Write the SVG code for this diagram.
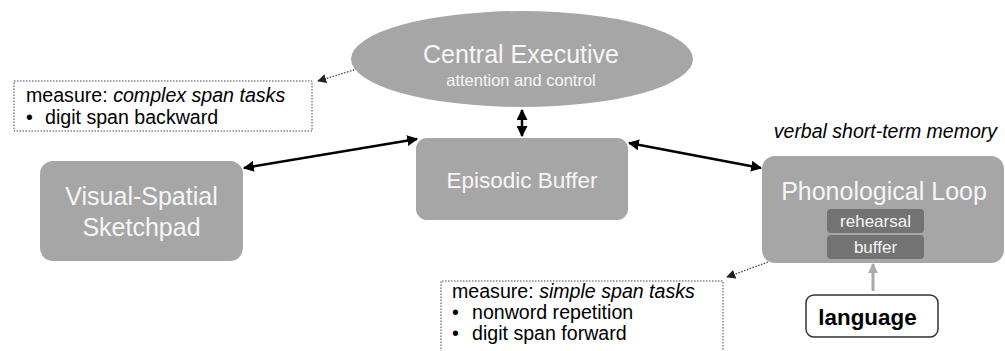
<svg xmlns="http://www.w3.org/2000/svg" width="1005" height="351" viewBox="0 0 1005 351">
<style>
.node{fill:#a6a6a6}
.lt{font-family:"Liberation Sans",Arial,sans-serif;fill:#f6f6f6;text-anchor:middle}
.bt{font-family:"Liberation Sans",Arial,sans-serif;fill:#000}
.inner{fill:#737373}
.mbox{fill:#fff;stroke:#444;stroke-width:1;stroke-dasharray:1.5 1.5}
.dbl{stroke:#000;stroke-width:2.5;fill:none}
.dot{stroke:#444;stroke-width:1.3;stroke-dasharray:1.5 1.5;fill:none}
</style>
<defs>
<marker id="ah" viewBox="0 0 10 10" refX="9" refY="5" markerWidth="4.4" markerHeight="4.4" orient="auto-start-reverse" markerUnits="strokeWidth">
<path d="M0,0 L10,5 L0,10 z" fill="#000"/>
</marker>
<marker id="ahd" viewBox="0 0 10 10" refX="9" refY="5" markerWidth="7" markerHeight="7" orient="auto" markerUnits="strokeWidth">
<path d="M0,0 L10,5 L0,10 z" fill="#222"/>
</marker>
<marker id="ahg" viewBox="0 0 10 10" refX="9" refY="5" markerWidth="3.5" markerHeight="3.5" orient="auto" markerUnits="strokeWidth">
<path d="M0,0 L10,5 L0,10 z" fill="#aaa"/>
</marker>
</defs>

<g id="connectors">
<line class="dbl" x1="522" y1="110" x2="522" y2="136" marker-start="url(#ah)" marker-end="url(#ah)"/>
<line class="dbl" x1="417" y1="139" x2="244" y2="168" marker-start="url(#ah)" marker-end="url(#ah)"/>
<line class="dbl" x1="629" y1="143" x2="761" y2="168" marker-start="url(#ah)" marker-end="url(#ah)"/>
<line class="dot" x1="357" y1="69" x2="318" y2="81" marker-end="url(#ahd)"/>
<line class="dot" x1="768" y1="262" x2="727" y2="277" marker-end="url(#ahd)"/>
<line x1="873" y1="291" x2="873" y2="264" stroke="#aaa" stroke-width="3" marker-end="url(#ahg)"/>
</g>

<g id="central-executive">
<ellipse class="node" cx="522" cy="59" rx="171" ry="48"/>
<text class="lt" x="521" y="63" font-size="25">Central Executive</text>
<text class="lt" x="521" y="86" font-size="16.5">attention and control</text>
</g>

<g id="complex-span">
<rect class="mbox" x="14" y="81" width="298" height="50"/>
<text class="bt" x="26" y="102" font-size="19.6">measure: <tspan font-style="italic">complex span tasks</tspan></text>
<text class="bt" x="26" y="124" font-size="19.6">•</text>
<text class="bt" x="45" y="124" font-size="19.6">digit span backward</text>
</g>

<g id="visual-spatial">
<rect class="node" x="40" y="161" width="203" height="100" rx="13"/>
<text class="lt" x="141.5" y="205" font-size="25">Visual-Spatial</text>
<text class="lt" x="141.5" y="236" font-size="25">Sketchpad</text>
</g>

<g id="episodic-buffer">
<rect class="node" x="416" y="138" width="212" height="82" rx="11"/>
<text class="lt" x="522" y="188" font-size="22.5">Episodic Buffer</text>
</g>

<g id="verbal-label">
<text class="bt" x="997" y="138" font-size="19.5" font-style="italic" text-anchor="end">verbal short-term memory</text>
</g>

<g id="phonological-loop">
<rect class="node" x="762" y="156" width="242" height="107" rx="13"/>
<text class="lt" x="884" y="200" font-size="25">Phonological Loop</text>
<rect class="inner" x="827" y="209" width="97" height="24" rx="4"/>
<text class="lt" x="875.5" y="227" font-size="17">rehearsal</text>
<rect class="inner" x="827" y="235" width="97" height="24" rx="4"/>
<text class="lt" x="875.5" y="253" font-size="17">buffer</text>
</g>

<g id="language">
<rect x="806" y="295" width="132" height="42" rx="8" fill="#fff" stroke="#333" stroke-width="1.5"/>
<text class="bt" x="867.5" y="325" font-size="22.4" font-weight="bold" text-anchor="middle">language</text>
</g>

<g id="simple-span">
<path class="mbox" d="M441,355 L441,281 L723,281 L723,355"/>
<text class="bt" x="452" y="298" font-size="19.6">measure: <tspan font-style="italic">simple span tasks</tspan></text>
<text class="bt" x="452" y="319" font-size="19.6">•</text>
<text class="bt" x="472" y="319" font-size="19.6">nonword repetition</text>
<text class="bt" x="452" y="340" font-size="19.6">•</text>
<text class="bt" x="472" y="340" font-size="19.6">digit span forward</text>
</g>
</svg>
